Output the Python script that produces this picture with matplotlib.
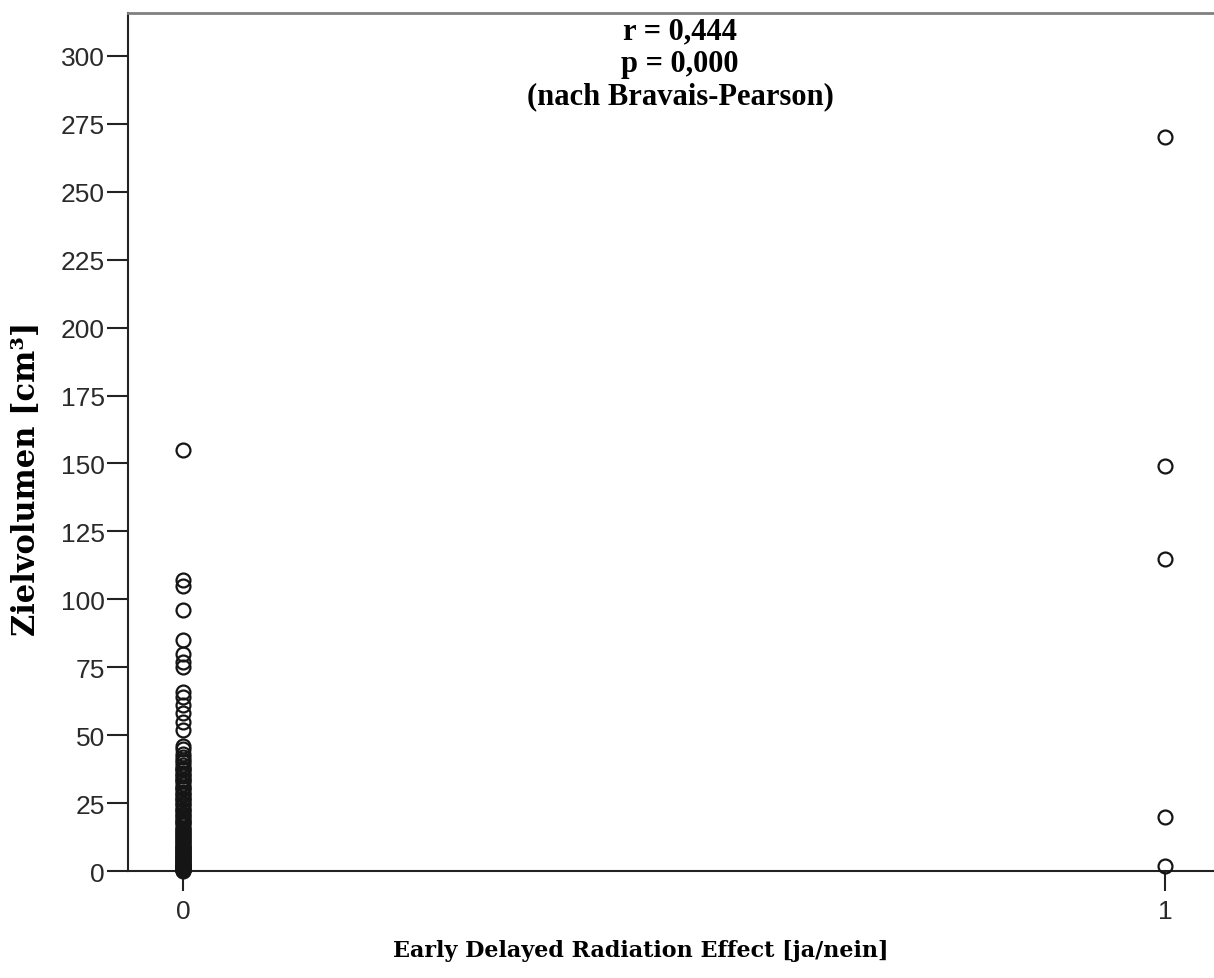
import numpy as np
import matplotlib
matplotlib.use("Agg")
import matplotlib.pyplot as plt

# Zielvolumen [cm3] by group (0 = nein, 1 = ja)
vol_nein = [155, 107, 105, 96, 85, 80, 77, 75, 66, 64, 61, 58, 55, 52,
            46, 45, 43, 42, 41, 40, 39, 38, 37.5, 37, 36, 35.5, 35, 34, 33.5,
            33, 32, 31, 30.5, 30, 29, 28.5, 28, 27, 26.5, 26, 25, 24.5, 24,
            23, 22.5, 22, 21, 20.5, 20, 19, 18.5, 18, 17.5, 17, 16, 15.5, 15,
            14.5, 14, 13.5, 13, 12.5, 12, 11.5, 11, 10.5, 10, 9.5, 9, 8.7,
            8.5, 8, 7.5, 7.2, 7, 6.5, 6, 5.8, 5.5, 5, 4.7, 4.5, 4, 3.7, 3.5,
            3, 2.8, 2.5, 2.2, 2, 1.8, 1.5, 1.2, 1, 0.8, 0.6, 0.5, 0.4, 0.3,
            0.2, 0.1]
vol_ja = [270, 149, 115, 20, 2]
xticks = [0, 1]
yticks = list(range(0, 301, 25))
stats_text = "r = 0,444\np = 0,000\n(nach Bravais-Pearson)"

W, H = 1214, 979
fig = plt.figure(figsize=(W / 100, H / 100), dpi=100)
ax = fig.add_axes([128 / W, 1 - 872 / H, 1 - 128 / W, (872 - 14) / H])

x = [0] * len(vol_nein) + [1] * len(vol_ja)
y = vol_nein + vol_ja
ax.plot(x, y, 'o', mfc='none', mec='#151515', ms=10, mew=1.6, clip_on=False, zorder=3)

ax.set_xlim(-0.056, 1.05)
ax.set_ylim(0, 315.8)
ax.set_xticks(xticks)
ax.set_yticks(yticks)
ax.set_xticklabels([str(t) for t in xticks])
ax.set_yticklabels([str(t) for t in yticks])

for lab in ax.get_xticklabels() + ax.get_yticklabels():
    lab.set_family("Liberation Sans")
    lab.set_fontsize(19)
    lab.set_color("#2a2a2a")

ax.tick_params(axis='y', length=15, width=1.5, pad=1.5, color='#222222')
ax.tick_params(axis='x', length=14.4, width=1.5, pad=6, color='#222222')

ax.spines['right'].set_visible(False)
ax.spines['top'].set_color('#808080')
ax.spines['top'].set_linewidth(2)
ax.spines['left'].set_color('#222222')
ax.spines['left'].set_linewidth(1.5)
ax.spines['bottom'].set_color('#222222')
ax.spines['bottom'].set_linewidth(1.5)

fig.text(27 / W, 1 - 479 / H, "Zielvolumen [cm³]", rotation=90, ha='center', va='center',
         family="DejaVu Serif", fontweight='bold', fontsize=22)
fig.text(641 / W, 1 - 951 / H, "Early Delayed Radiation Effect [ja/nein]", ha='center',
         va='center', family="DejaVu Serif", fontweight='bold', fontsize=16)
fig.text(680 / W, 1 - 17 / H, stats_text, ha='center', va='top', family="Liberation Serif",
         fontweight='bold', fontsize=22, linespacing=1.17)

fig.savefig("out.png", dpi=100)
